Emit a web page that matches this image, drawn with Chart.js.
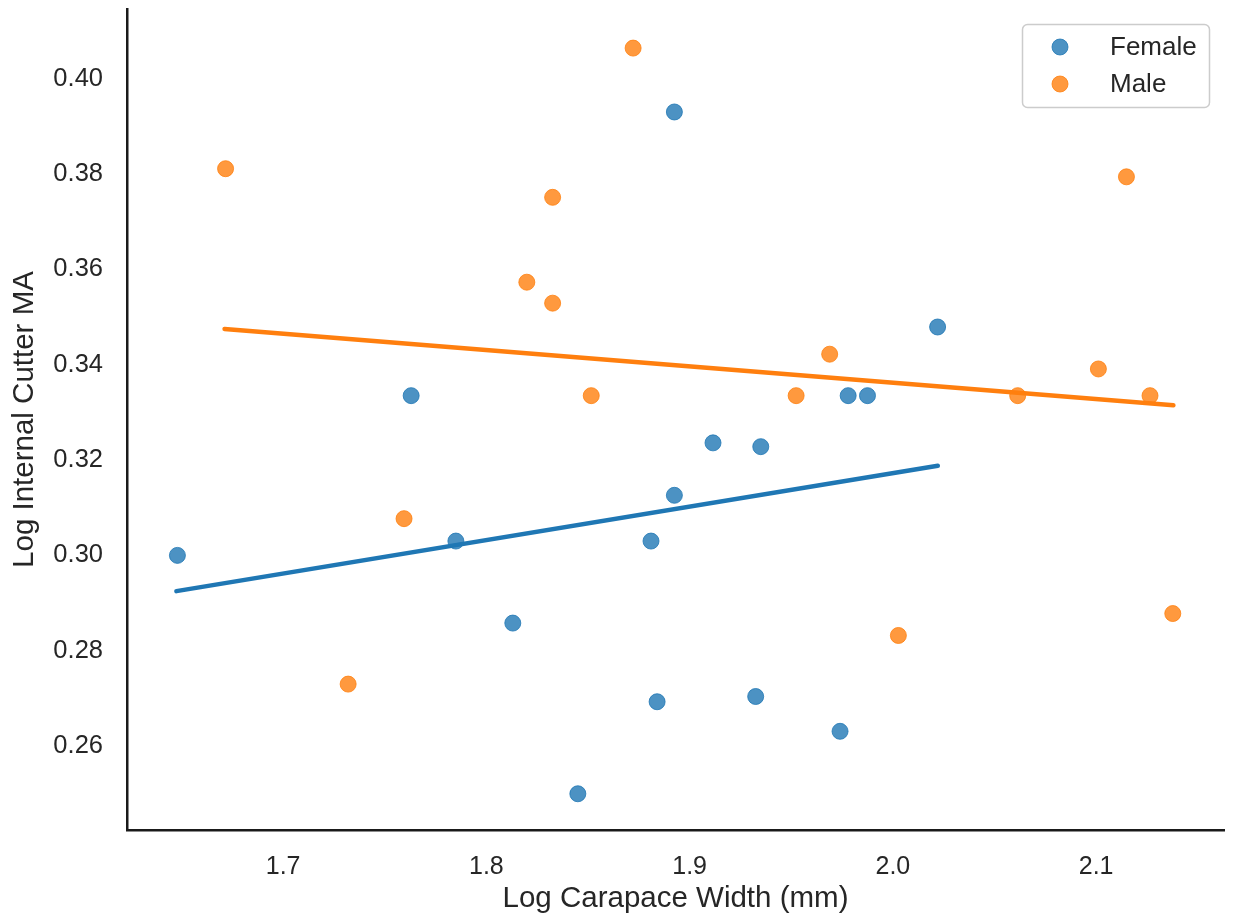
<!DOCTYPE html>
<html>
<head>
<meta charset="utf-8">
<script src="https://cdn.jsdelivr.net/npm/chart.js@4.4.1/dist/chart.umd.min.js"></script>
<style>
  html, body { margin: 0; padding: 0; background: #fff; }
</style>
</head>
<body>
<canvas id="chart" width="1233" height="919"></canvas>
<script>
// scatter data
const femaleX = [1.648, 1.763, 1.785, 1.813, 1.845, 1.881, 1.884, 1.8925, 1.8925, 1.9115, 1.9325, 1.935, 1.974, 1.978, 1.9875, 2.022];
const femaleY = [0.300, 0.3335, 0.303, 0.2858, 0.250, 0.303, 0.2693, 0.393, 0.3126, 0.3236, 0.2704, 0.3228, 0.2631, 0.3335, 0.3335, 0.3479];

const maleX = [1.6717, 1.732, 1.7595, 1.8199, 1.8326, 1.8326, 1.8516, 1.8722, 1.9524, 1.9689, 2.0027, 2.0614, 2.1011, 2.1149, 2.1265, 2.1377];
const maleY = [0.3811, 0.273, 0.3077, 0.3573, 0.3751, 0.3529, 0.3335, 0.4064, 0.3335, 0.3422, 0.2832, 0.3335, 0.3391, 0.3794, 0.3335, 0.2878];

// fitted regression lines (end points)
const femaleFitX = [1.6475, 2.0221];
const femaleFitY = [0.2925, 0.3188];
const maleFitX = [1.6712, 2.138];
const maleFitY = [0.3475, 0.3315];

// axis ticks
const xTicks = [1.7, 1.8, 1.9, 2.0, 2.1];
const yTicks = [0.26, 0.28, 0.30, 0.32, 0.34, 0.36, 0.38, 0.40];

const BLUE = '#1f77b4';
const ORANGE = '#ff7f0e';
const BLUE_PT = 'rgba(31,119,180,0.8)';
const ORANGE_PT = 'rgba(255,127,14,0.8)';
const TEXT = '#262626';
const FONT = '"Liberation Sans", Arial, sans-serif';

const toPoints = (xs, ys) => xs.map((x, i) => ({x: x, y: ys[i]}));

//legend drawn inside the plot area, top right, with a rounded grey frame
const legendBox = {
    id: 'legendBox',
    afterDraw(chart) {
        const ctx = chart.ctx;
        const area = chart.chartArea;
        const entries = chart.data.datasets.filter((d) => d.inLegend);
        const w = 187;
        const h = 83;
        const left = area.right - 15 - w;
        const top = area.top + 15;

        ctx.save();
        ctx.beginPath();
        ctx.roundRect(left + 0.5, top + 0.5, w, h, 5);
        ctx.fillStyle = 'rgba(255,255,255,0.8)';
        ctx.fill();
        ctx.lineWidth = 1.5;
        ctx.strokeStyle = '#cccccc';
        ctx.stroke();

        ctx.font = '26px ' + FONT;
        ctx.textBaseline = 'middle';
        ctx.textAlign = 'left';
        entries.forEach((d, i) => {
            const cy = top + 23 + i * 37;
            ctx.beginPath();
            ctx.arc(left + 38, cy, 8, 0, Math.PI * 2);
            ctx.fillStyle = d.backgroundColor;
            ctx.fill();
            ctx.lineWidth = 1;
            ctx.strokeStyle = d.borderColor;
            ctx.stroke();
            ctx.fillStyle = TEXT;
            ctx.fillText(d.label, left + 88, cy + 1);
        });
        ctx.restore();
    },
};

new Chart(document.getElementById('chart'), {
    type: 'scatter',
    data: {
        datasets: [
            {
                label: 'Female',
                inLegend: true,
                data: toPoints(femaleX, femaleY),
                backgroundColor: BLUE_PT,
                borderColor: BLUE_PT,
                borderWidth: 1,
                pointRadius: 8,
                order: 2,
            },
            {
                label: 'Female fit',
                data: toPoints(femaleFitX, femaleFitY),
                showLine: true,
                borderColor: BLUE,
                borderWidth: 4.5,
                borderCapStyle: 'round',
                pointRadius: 0,
                order: 1,
            },
            {
                label: 'Male',
                inLegend: true,
                data: toPoints(maleX, maleY),
                backgroundColor: ORANGE_PT,
                borderColor: ORANGE_PT,
                borderWidth: 1,
                pointRadius: 8,
                order: 2,
            },
            {
                label: 'Male fit',
                data: toPoints(maleFitX, maleFitY),
                showLine: true,
                borderColor: ORANGE,
                borderWidth: 4.5,
                borderCapStyle: 'round',
                pointRadius: 0,
                order: 1,
            },
        ],
    },
    options: {
        responsive: false,
        animation: false,
        devicePixelRatio: 1,
        layout: {
            padding: {left: 0, top: 7, right: 1, bottom: 0},
        },
        plugins: {
            legend: {display: false},
            tooltip: {enabled: false},
        },
        scales: {
            x: {
                type: 'linear',
                min: 1.6232,
                max: 2.1629,
                afterBuildTicks: (axis) => {
                    axis.ticks = xTicks.map((v) => ({value: v}));
                },
                afterFit: (axis) => {
                    axis.height = 89;
                    axis.paddingLeft = 0;
                    axis.paddingRight = 0;
                },
                grid: {display: false, drawTicks: false},
                border: {display: true, color: '#1a1a1a', width: 2.5},
                ticks: {
                    padding: 22,
                    color: TEXT,
                    font: {family: FONT, size: 25},
                    callback: (v) => v.toFixed(1),
                },
                title: {
                    display: true,
                    text: 'Log Carapace Width (mm)',
                    color: TEXT,
                    font: {family: FONT, size: 29.5},
                    padding: {top: 0, bottom: 2},
                },
            },
            y: {
                type: 'linear',
                min: 0.2424,
                max: 0.4146,
                afterBuildTicks: (axis) => {
                    axis.ticks = yTicks.map((v) => ({value: v}));
                },
                afterFit: (axis) => {
                    axis.width = 127;
                    axis.paddingTop = 0;
                    axis.paddingBottom = 0;
                },
                grid: {display: false, drawTicks: false},
                border: {display: true, color: '#1a1a1a', width: 2.5},
                ticks: {
                    padding: 24,
                    color: TEXT,
                    font: {family: FONT, size: 25.5},
                    callback: (v) => v.toFixed(2),
                },
                title: {
                    display: true,
                    text: 'Log Internal Cutter MA',
                    color: TEXT,
                    font: {family: FONT, size: 29.5},
                    padding: {top: 7, bottom: 0},
                },
            },
        },
    },
    plugins: [legendBox],
});
</script>
</body>
</html>
